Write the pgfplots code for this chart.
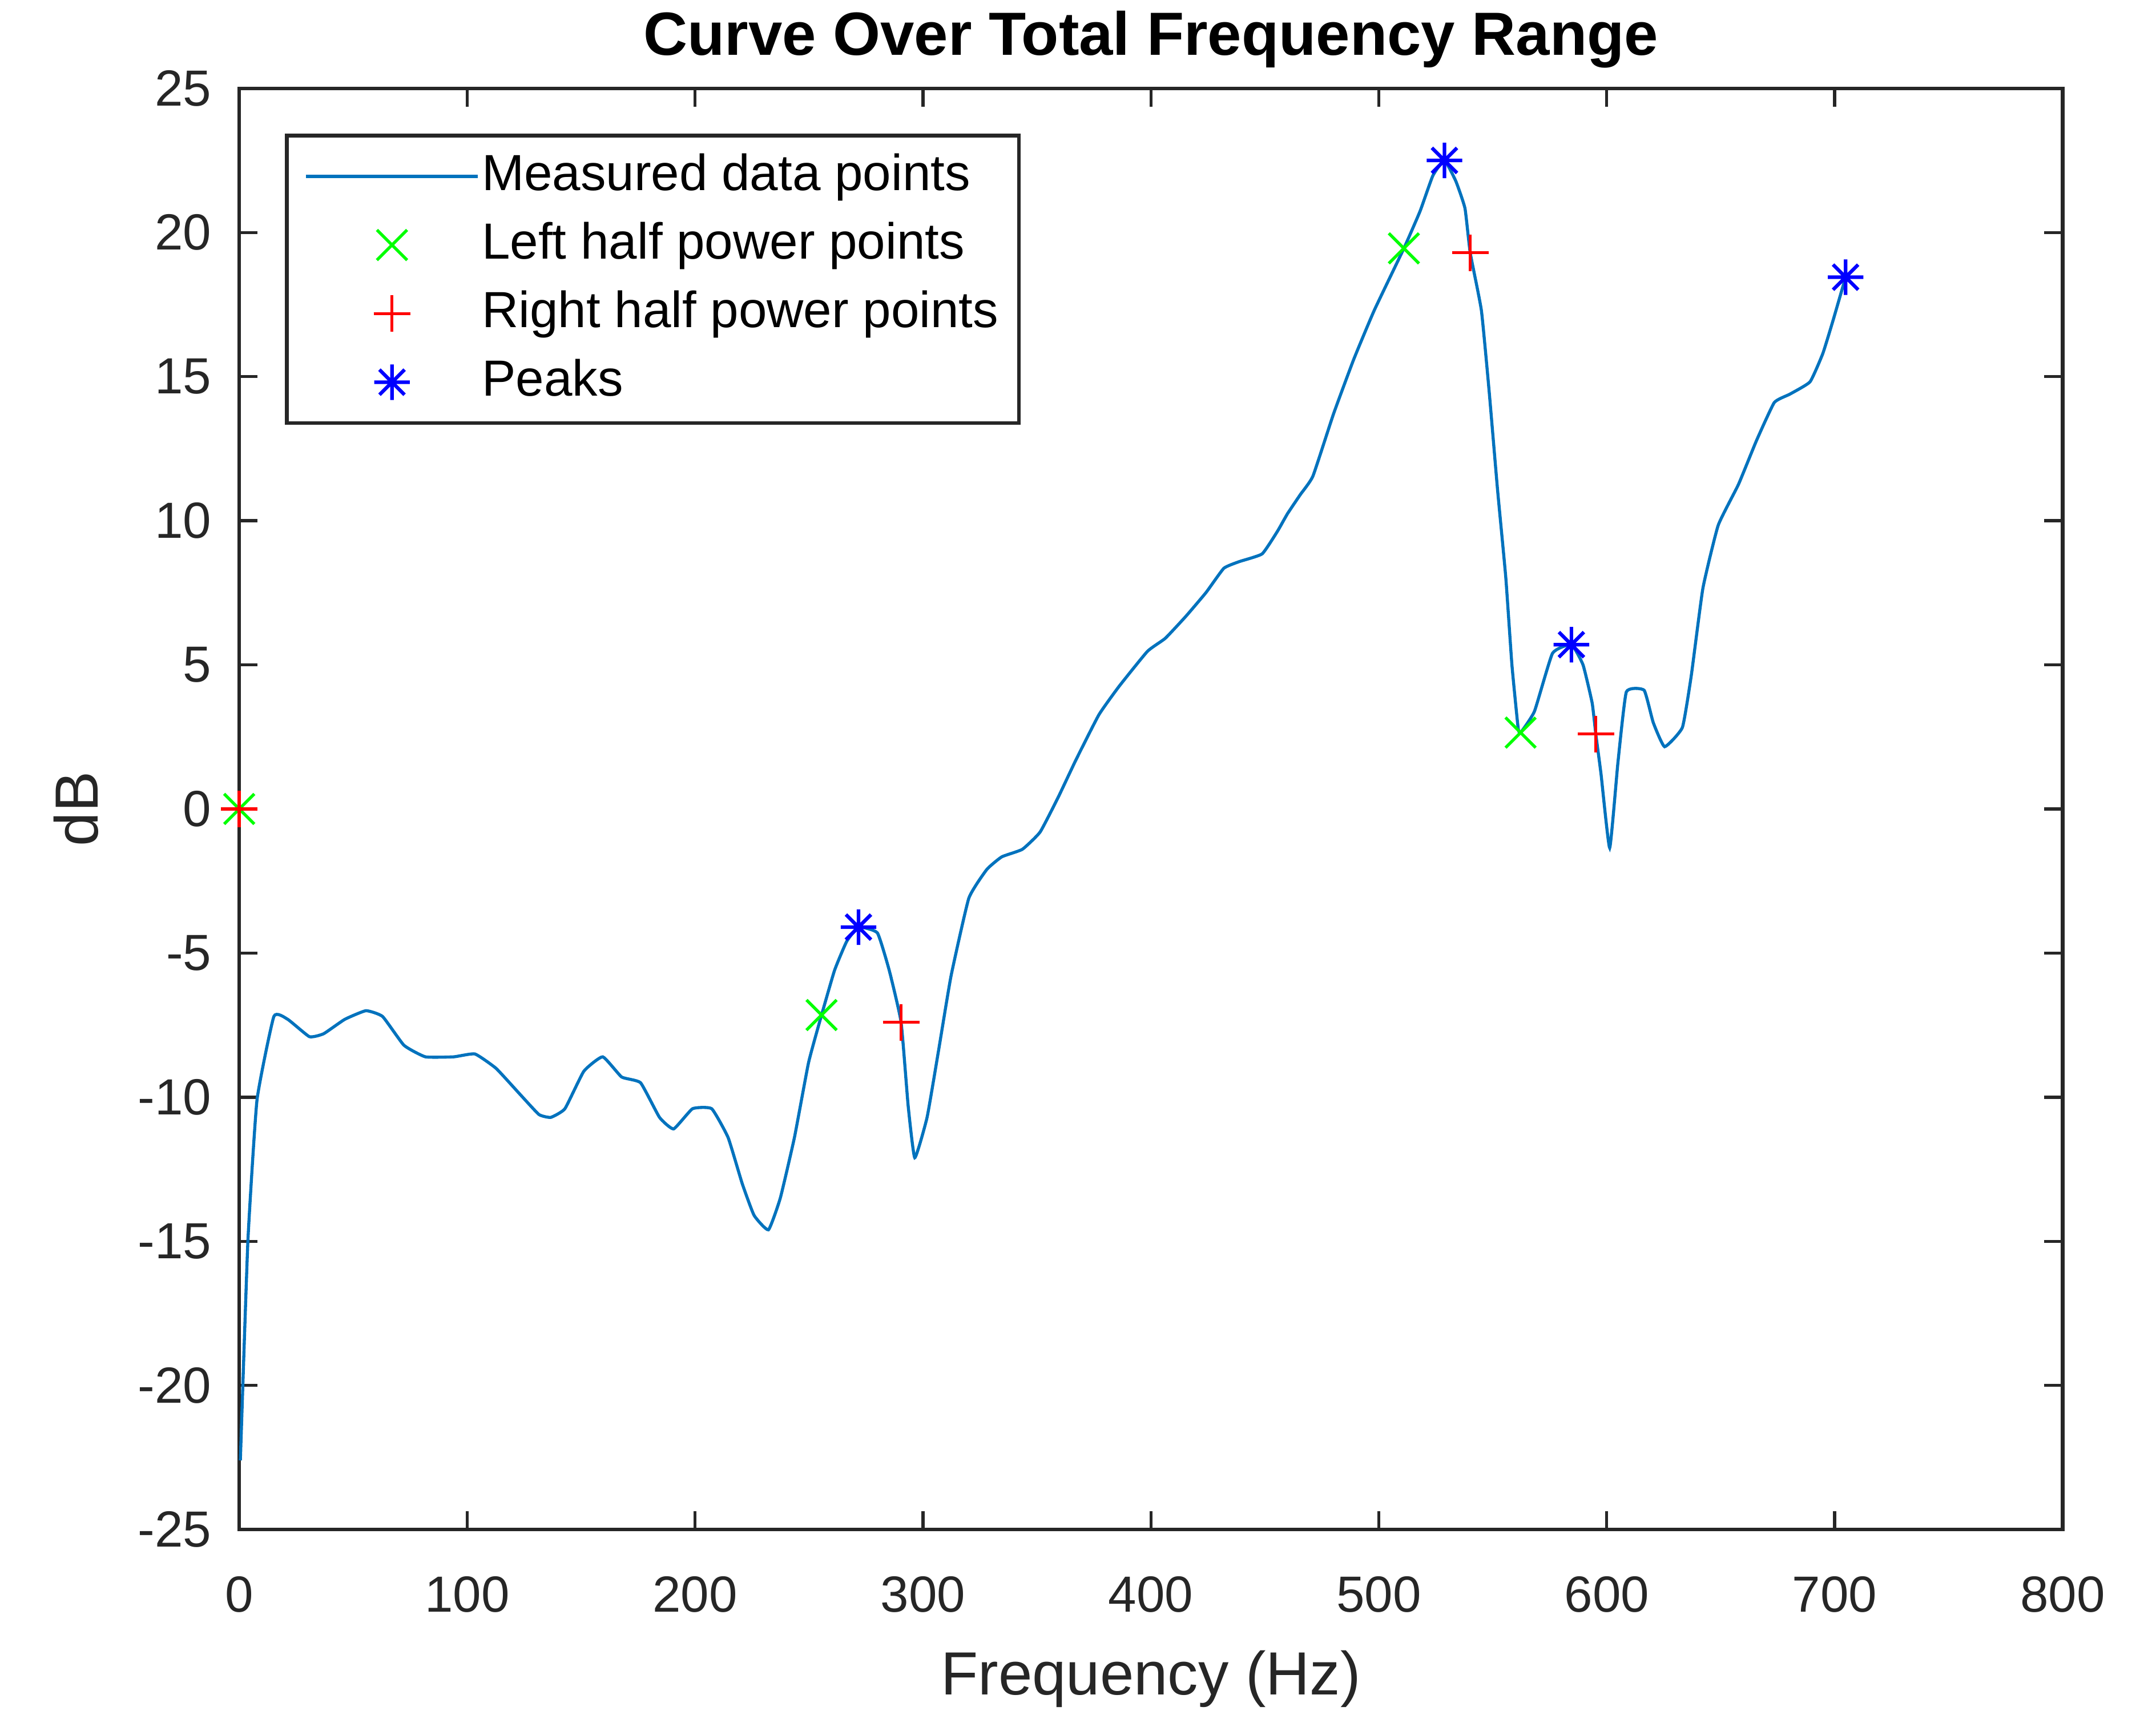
\documentclass[border=0pt]{standalone}
\usepackage{fontspec}
\setmainfont{Liberation Sans}
\usepackage{pgfplots}
\pgfplotsset{compat=1.18}
\definecolor{mlblue}{rgb}{0,0.447,0.741}
\definecolor{mgray}{rgb}{0.15,0.15,0.15}
\definecolor{mgreen}{rgb}{0,1,0}
\pgfdeclareplotmark{mstar}{%
  \pgfpathmoveto{\pgfqpoint{0pt}{\pgfplotmarksize}}\pgfpathlineto{\pgfqpoint{0pt}{-\pgfplotmarksize}}%
  \pgfpathmoveto{\pgfqpoint{\pgfplotmarksize}{0pt}}\pgfpathlineto{\pgfqpoint{-\pgfplotmarksize}{0pt}}%
  \pgfpathmoveto{\pgfqpoint{.7071\pgfplotmarksize}{.7071\pgfplotmarksize}}\pgfpathlineto{\pgfqpoint{-.7071\pgfplotmarksize}{-.7071\pgfplotmarksize}}%
  \pgfpathmoveto{\pgfqpoint{-.7071\pgfplotmarksize}{.7071\pgfplotmarksize}}\pgfpathlineto{\pgfqpoint{.7071\pgfplotmarksize}{-.7071\pgfplotmarksize}}%
  \pgfusepathqstroke}
\pgfplotsset{
  legline/.style={legend image code/.code={\draw[##1] (0pt,0pt) -- (33.8pt,0pt);}},
  legmark/.style={legend image code/.code={\draw[mark repeat=2,mark phase=2,##1] plot coordinates {(0pt,0pt)(16.9pt,0pt)(33.8pt,0pt)};}},
}
\begin{document}
\begin{tikzpicture}
\begin{axis}[
  scale only axis,
  width=359pt, height=283.7pt,
  xmin=0, xmax=800, ymin=-25, ymax=25,
  xtick={0,100,...,800}, ytick={-25,-20,...,25},
  tick align=inside, major tick length=3.6pt,
  tick style={mgray, line width=0.6pt},
  axis line style={mgray, line width=0.75pt},
  clip=false,
  /pgf/number format/assume math mode=true,
  ticklabel style={font=\fontsize{10}{12}\selectfont, text=mgray},
  xticklabel style={anchor=base, yshift=-16.2pt, inner sep=0pt},
  yticklabel style={anchor=east, inner sep=0pt, xshift=-5.3pt},
  title={Curve Over Total Frequency Range},
  title style={at={(axis description cs:0.5,1)}, anchor=base, yshift=0.6pt, font=\fontsize{12}{14}\selectfont\bfseries},
  xlabel={Frequency (Hz)},
  xlabel style={at={(axis description cs:0.5,0)}, anchor=base, yshift=-32.5pt, font=\fontsize{12}{14}\selectfont, text=mgray},
  ylabel={dB},
  ylabel style={at={(axis description cs:0,0.5)}, anchor=base, yshift=27.8pt, font=\fontsize{12}{14}\selectfont, text=mgray},
  legend style={at={(0.0251,0.9686)}, anchor=north west, draw=mgray, line width=0.75pt, fill=white,
    inner xsep=3.5pt, inner ysep=3.3pt, row sep=4pt, font=\fontsize{10}{12}\selectfont,
    cells={anchor=west}, nodes={inner xsep=0.5pt, inner ysep=0pt, text height=7.5pt, text depth=2pt}},
]
\addplot[mlblue, line width=0.6pt, smooth, tension=0.25, legline] coordinates {
(0.5,-22.6) (3.8,-15.0) (7.8,-10.1) (15.2,-7.2) (21.3,-7.3) (30.8,-7.9) (37,-7.8) (46.3,-7.3)
(55.6,-7.0) (62.9,-7.2) (72.3,-8.2) (81.7,-8.6) (94.1,-8.6) (103.4,-8.5) (112.7,-9.0) (123.2,-9.9)
(131.5,-10.6) (136.7,-10.7) (142.9,-10.4) (151.2,-9.1) (159.5,-8.6) (167.8,-9.3) (176.1,-9.5)
(184.4,-10.7) (190.6,-11.1) (198.9,-10.4) (207.3,-10.4) (214.5,-11.4) (220.7,-13.0) (225.9,-14.1)
(232.2,-14.6) (237.4,-13.5) (243.6,-11.4) (249.8,-8.8) (255.5,-7.15) (261.2,-5.6) (266.5,-4.6)
(271.7,-4.1) (280,-4.3) (285.2,-5.6) (290.4,-7.4) (293.5,-10.3) (296.4,-12.1) (301.8,-10.7)
(306.8,-8.4) (312.3,-5.8) (320.1,-3.1) (328.0,-2.1) (334.6,-1.66) (343.6,-1.4) (351.4,-0.8)
(359.3,0.4) (367.1,1.7) (377.2,3.27) (386.1,4.26) (398.5,5.47) (406.3,5.92) (415.3,6.68)
(424.2,7.51) (432.0,8.35) (438.7,8.58) (448.8,8.85) (455.5,9.63) (459.9,10.24) (465.5,10.9)
(471.1,11.55) (480.1,13.7) (489.0,15.6) (498.0,17.3) (511.0,19.45) (518.1,20.74) (523.7,21.97)
(528.8,22.5) (533.8,21.78) (537.8,20.84) (540.1,19.3) (545.0,17.3) (548.4,14.5) (552.1,11.07)
(555.7,8.04) (558.4,5.0) (561.1,2.83) (562.2,2.65) (568.3,3.39) (576.2,5.4) (584.5,5.7)
(589.6,5.0) (593.6,3.68) (595.2,2.6) (597.5,1.21) (601.3,-1.35) (604.9,1.6) (608.6,4.06)
(616.4,4.12) (620.4,3.0) (625.4,2.16) (633.2,2.83) (637.1,4.63) (642.2,7.66) (648.9,9.84)
(657.8,11.26) (665.7,12.78) (673.5,14.1) (680.3,14.39) (689.2,14.82) (694.8,15.8) (699.3,16.95)
(704.8,18.45)
};
\addlegendentry{Measured data points}
\addplot[only marks, mark=x, mark size=4.2pt, color=mgreen, line width=0.6pt, legmark] coordinates {
(0,0) (255.5,-7.15) (511,19.45) (562.2,2.65)
};
\addlegendentry{Left half power points}
\addplot[only marks, mark=+, mark size=3.6pt, color=red, line width=0.6pt, legmark] coordinates {
(0,0) (290.4,-7.4) (540.1,19.3) (595.2,2.6)
};
\addlegendentry{Right half power points}
\addplot[only marks, mark=mstar, mark size=3.5pt, color=blue, line width=0.7pt, legmark] coordinates {
(271.7,-4.1) (528.8,22.5) (584.5,5.7) (704.8,18.45)
};
\addlegendentry{Peaks}
\end{axis}
\pgfresetboundingbox
\path[use as bounding box] (-47.1pt,-37.3pt) rectangle (377.4pt,301.1pt);
\end{tikzpicture}
\end{document}
